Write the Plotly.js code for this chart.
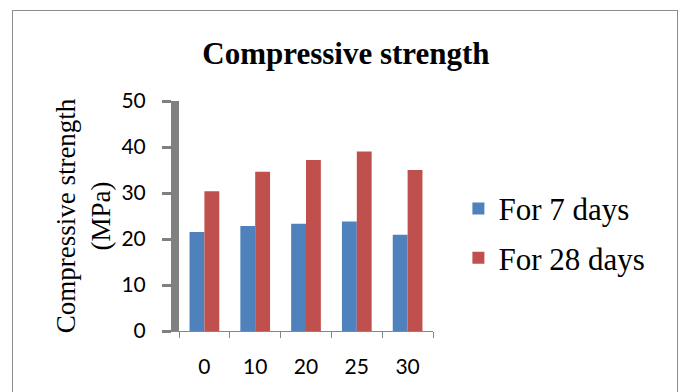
<!DOCTYPE html>
<html>
<head>
<meta charset="utf-8">
<script src="https://cdn.plot.ly/plotly-3.0.1.min.js"></script>
<style>
  html, body { margin: 0; padding: 0; background: #ffffff; }
  #frame { position: absolute; left: 12px; top: 10px; width: 666px; height: 400px; border: 1px solid #8c8c8c; box-sizing: border-box; }
  #chart { position: absolute; left: 0; top: 0; width: 681px; height: 392px; }
</style>
</head>
<body>
<div id="frame"></div>
<div id="chart"></div>
<script>
// Data
const categories = ["0", "10", "20", "25", "30"];
const days7 = [21.5, 22.8, 23.3, 23.8, 20.9];
const days28 = [30.4, 34.6, 37.2, 39.0, 35.0];
const seriesNames = ["For 7 days", "For 28 days"];
const yTicks = [0, 10, 20, 30, 40, 50];

const traces = [
  { type: "bar", x: categories, y: days7, name: seriesNames[0], legendgroup: "a",
    marker: { color: "#4F81BD" } },
  { type: "bar", x: categories, y: days28, name: seriesNames[1], legendgroup: "b",
    marker: { color: "#C0504D" } }
];

const layout = {
  width: 681, height: 392,
  paper_bgcolor: "rgba(0,0,0,0)", plot_bgcolor: "rgba(0,0,0,0)",
  margin: { l: 179, r: 248, t: 101, b: 61, autoexpand: false },
  barmode: "group", bargap: 0.415, bargroupgap: 0,
  title: {
    text: "<b>Compressive strength</b>",
    font: { family: "Liberation Serif, Times New Roman, serif", size: 31, color: "#000" },
    xref: "container", yref: "container", x: 0.508, y: 0.865,
    xanchor: "center", yanchor: "middle"
  },
  xaxis: {
    type: "category", showline: true, linecolor: "#868686", linewidth: 1,
    ticks: "outside", tickson: "boundaries", ticklen: 6, tickcolor: "#868686", tickwidth: 1,
    showgrid: false, zeroline: false, automargin: false,
    tickfont: { family: "Lato, Open Sans, sans-serif", size: 21, color: "#000" },
    ticklabelstandoff: 17
  },
  yaxis: {
    range: [0, 50], tickvals: yTicks, ticktext: yTicks.map(String),
    showline: true, linecolor: "#808080", linewidth: 8,
    ticks: "outside", ticklen: 9, tickwidth: 3, tickcolor: "#808080",
    showgrid: false, zeroline: false, automargin: false,
    tickfont: { family: "Lato, Open Sans, sans-serif", size: 21, color: "#000" },
    ticklabelstandoff: 12,
    title: {
      text: "Compressive strength<br>(MPa)",
      font: { family: "Liberation Serif, Times New Roman, serif", size: 27, color: "#000" },
      standoff: 6
    }
  },
  showlegend: true,
  legend: {
    x: 1.10, xanchor: "left", y: 0.425, yanchor: "middle",
    traceorder: "grouped", tracegroupgap: 6,
    font: { family: "Liberation Serif, Times New Roman, serif", size: 31, color: "#000" },
    bgcolor: "rgba(0,0,0,0)"
  }
};

Plotly.newPlot("chart", traces, layout, { displayModeBar: false, staticPlot: true });
</script>
</body>
</html>
